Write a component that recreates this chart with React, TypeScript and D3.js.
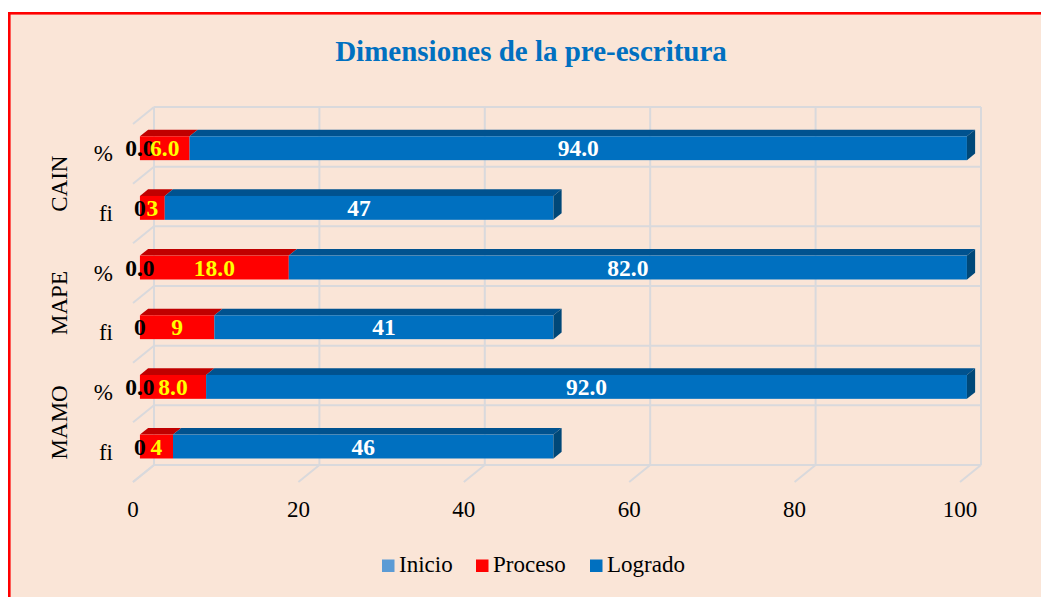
import React from "react";
import * as d3 from "d3";

const categories = ["CAIN %", "CAIN fi", "MAPE %", "MAPE fi", "MAMO %", "MAMO fi"];
const groupLabels = ["CAIN", "MAPE", "MAMO"];
const subLabels = ["%", "fi", "%", "fi", "%", "fi"];
const series = ["Inicio", "Proceso", "Logrado"];
const inicio = [0, 0, 0, 0, 0, 0];
const proceso = [6, 3, 18, 9, 8, 4];
const logrado = [94, 47, 82, 41, 92, 46];
const labelText = [
  ["0.0", "6.0", "94.0"],
  ["0", "3", "47"],
  ["0.0", "18.0", "82.0"],
  ["0", "9", "41"],
  ["0.0", "8.0", "92.0"],
  ["0", "4", "46"],
];
const xTicks = [0, 20, 40, 60, 80, 100];

const FONT = "'Liberation Serif', 'Times New Roman', serif";
const faceColors = [
  { front: "#5B9BD5", top: "#4A80B2", side: "#3D6C98", label: "#000000" },
  { front: "#FF0000", top: "#C00000", side: "#A00000", label: "#FFFF00" },
  { front: "#0070C0", top: "#00528F", side: "#004878", label: "#FFFFFF" },
];

export default function App() {
  const W = 1041, H = 597;
  const x = d3.scaleLinear().domain([0, 100]).range([133, 960]);
  const y = d3.scaleBand<string>().domain(categories).range([124, 482]).paddingInner(0.6).paddingOuter(0.3);
  const DX = 21, DY = -17;
  const z0 = 0.33, z1 = 0.72;
  const step = y.step();
  const frontTop = 124, frontBottom = 482;
  const grid = "#D9D9DC";
  const values = [inicio, proceso, logrado];

  const boundaries = d3.range(categories.length + 1).map((k) => frontTop + k * step);

  const bars: React.ReactNode[] = [];
  const labels: React.ReactNode[] = [];
  categories.forEach((c, ci) => {
    const yf = (y(c) as number) + z0 * DY;
    const h = y.bandwidth();
    const ox = (z1 - z0) * DX, oy = (z1 - z0) * DY;
    let cum = 0;
    let lastEnd = 0;
    let lastSeries = 0;
    values.forEach((vals, si) => {
      const v = vals[ci];
      const x1 = x(cum) + z0 * DX;
      const x2 = x(cum + v) + z0 * DX;
      const col = faceColors[si];
      if (v > 0) {
        bars.push(
          <g key={`b${ci}-${si}`}>
            <path d={`M${x1},${yf} L${x1 + ox},${yf + oy} L${x2 + ox},${yf + oy} L${x2},${yf} Z`} fill={col.top} />
            <rect x={x1} y={yf} width={x2 - x1} height={h} fill={col.front} />
          </g>
        );
        lastEnd = x2;
        lastSeries = si;
      }
      labels.push(
        <text key={`l${ci}-${si}`} x={(x1 + x2) / 2} y={yf + h / 2} textAnchor="middle" dominantBaseline="central"
          fontFamily={FONT} fontWeight="bold" fontSize={23.5} fill={col.label}>
          {labelText[ci][si]}
        </text>
      );
      cum += v;
    });
    const col = faceColors[lastSeries];
    const ox2 = (z1 - z0) * DX, oy2 = (z1 - z0) * DY;
    bars.push(
      <path key={`s${ci}`} d={`M${lastEnd},${yf} L${lastEnd + ox2},${yf + oy2} L${lastEnd + ox2},${yf + oy2 + h} L${lastEnd},${yf + h} Z`} fill={col.side} />
    );
  });

  return (
    <svg width={W} height={H} style={{ position: "absolute", left: 0, top: 0 }}>
      <rect x={0} y={0} width={W} height={H} fill="#FFFFFF" />
      <rect x={9.3} y={13.3} width={1200} height={800} fill="#FAE5D7" stroke="#FF0000" strokeWidth={2.6} />
      <text x={531} y={61} textAnchor="middle" fontFamily={FONT} fontWeight="bold" fontSize={29} fill="#0070C0">
        Dimensiones de la pre-escritura
      </text>
      <g stroke={grid} strokeWidth={2} fill="none">
        {boundaries.map((b, k) => (
          <line key={`h${k}`} x1={x(0) + DX} x2={x(100) + DX} y1={b + DY} y2={b + DY} />
        ))}
        {boundaries.map((b, k) => (
          <line key={`d${k}`} x1={x(0) + DX} y1={b + DY} x2={x(0)} y2={b} />
        ))}
        {xTicks.map((t) => (
          <line key={`v${t}`} x1={x(t) + DX} x2={x(t) + DX} y1={frontTop + DY} y2={frontBottom + DY} />
        ))}
        {xTicks.map((t) => (
          <line key={`f${t}`} x1={x(t) + DX} y1={frontBottom + DY} x2={x(t)} y2={frontBottom} />
        ))}
      </g>
      {bars}
      {labels}
      {xTicks.map((t) => (
        <text key={`t${t}`} x={x(t)} y={517} textAnchor="middle" fontFamily={FONT} fontSize={23} fill="#000">
          {t}
        </text>
      ))}
      {categories.map((c, i) => (
        <text key={`c${i}`} x={113} y={(y(c) as number) + y.bandwidth() / 2} textAnchor="end" dominantBaseline="central"
          fontFamily={FONT} fontSize={23} fill="#000">
          {subLabels[i]}
        </text>
      ))}
      {groupLabels.map((g, i) => {
        const cy = frontTop + step * (2 * i + 1);
        return (
          <text key={`g${i}`} transform={`translate(59,${cy}) rotate(-90)`} textAnchor="middle" dominantBaseline="central"
            fontFamily={FONT} fontSize={23} fill="#000">
            {g}
          </text>
        );
      })}
      {series.map((s, i) => {
        const lx = [382, 476, 590][i];
        return (
          <g key={`lg${i}`}>
            <rect x={lx} y={559.5} width={12.5} height={12.5} fill={faceColors[i].front} />
            <text x={lx + 17} y={572} fontFamily={FONT} fontSize={23} fill="#000">
              {s}
            </text>
          </g>
        );
      })}
    </svg>
  );
}
